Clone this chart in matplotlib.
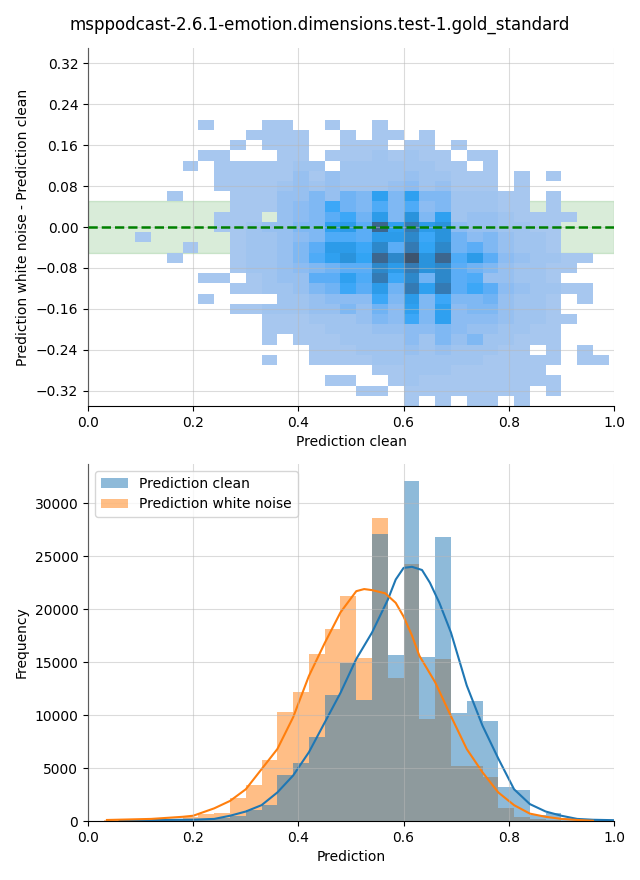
import numpy as np
import matplotlib
matplotlib.use('Agg')
import matplotlib.pyplot as plt
from matplotlib.colors import ListedColormap, to_rgb
from seaborn.external import husl

title = 'msppodcast-2.6.1-emotion.dimensions.test-1.gold_standard'

# ---- top panel: 2d histogram, prediction clean vs. difference ----
x_edges = np.round(np.arange(0.09, 0.995, 0.03), 2)        # 30 columns
y_rows = np.round(np.arange(0.20, -0.345, -0.02), 2)        # row centres, top -> bottom
# one char per cell: '.' empty, then rising counts (see level_counts)
level_chars = '.123456789abcdefgh'
level_counts = [0, 2, 5, 8, 12, 16, 20, 25, 28, 31, 34, 37, 41, 48, 57, 68, 85, 100]
grid_rows = [
    "....1...11..1..1..............",
    ".......1111..1.11.1...........",
    "......1.111..111.11.1.........",
    "....11...11.11121211.11.......",
    "...1.1111122.22222211.1.......",
    ".....111113132222322111.1.1...",
    ".....111123232223423111.1.....",
    "..1...111335365b5b5522211.1...",
    "......1113459658584522211.1...",
    ".....111.345796c5d5b23321111..",
    ".....1123355bc7gbfcd4332211...",
    "1.....122345887cce9d6453221...",
    "...1..122357cc9e7fae6753221...",
    "..1...122358bdagehdg8c7432211.",
    "......122345677ecfde76532211..",
    "....11.123377b8f9e6e7833221...",
    "......112235697c6fbf797432211.",
    "....1....22344495c595563221.1.",
    "......11222335364b5b4553221...",
    "........11122235495b44432211..",
    "........1111222334454332211...",
    "........1.11122224253522111...",
    "...........11122232322211.1.1.",
    "........1..1111222222211111.11",
    "...............11222111111....",
    "............11..12111111111...",
    "..............11.11111111.1...",
    ".................1.1.11.1.....",
]

# ---- bottom panel: histograms (bin width 0.03) and kde curves ----
bin_edges = np.round(np.arange(0.03, 0.995, 0.03), 2)
clean_counts = [0, 20, 40, 60, 80, 120, 200, 300, 500, 1000, 1500, 4300, 5500, 7900,
                11900, 14900, 11400, 27100, 15700, 32100, 15500, 26800, 10200, 11300,
                9400, 3200, 2900, 600, 800, 250, 120, 60]
noise_counts = [100, 60, 60, 80, 150, 400, 700, 800, 2200, 3400, 5800, 10300, 12200,
                15800, 18100, 21200, 15400, 28600, 13500, 24300, 9600, 15300, 5200,
                5200, 4200, 1250, 400, 200, 100, 40, 20, 10]

clean_kde_x = [0.06, 0.12, 0.20, 0.24, 0.27, 0.30, 0.33, 0.36, 0.39, 0.42, 0.45, 0.48,
               0.51, 0.54, 0.57, 0.585, 0.60, 0.616, 0.635, 0.65, 0.668, 0.69, 0.72,
               0.75, 0.78, 0.81, 0.84, 0.87, 0.90, 0.93, 0.96, 1.0]
clean_kde_y = [80, 100, 130, 200, 500, 900, 1500, 2700, 4300, 6500, 9300, 12100,
               15300, 17800, 20900, 22800, 23900, 24000, 23700, 22500, 20600, 17800,
               12800, 9000, 5900, 3000, 1600, 900, 500, 200, 120, 80]
noise_kde_x = [0.036, 0.12, 0.18, 0.20, 0.24, 0.27, 0.30, 0.33, 0.36, 0.39, 0.42, 0.45,
               0.48, 0.51, 0.525, 0.54, 0.565, 0.585, 0.60, 0.616, 0.63, 0.66, 0.69,
               0.72, 0.75, 0.78, 0.81, 0.84, 0.87, 0.90, 0.93, 0.96]
noise_kde_y = [100, 200, 400, 500, 1200, 1900, 3000, 4900, 6800, 9800, 13700, 16800,
               19700, 21700, 21900, 21800, 21500, 20600, 19300, 17500, 15600, 13100,
               9900, 6800, 4600, 2700, 1500, 700, 400, 200, 100, 30]


def cmap_from_color(color):
    # same light->saturated->dark ramp seaborn uses for bivariate histograms
    r, g, b = to_rgb(color)
    h, s, _ = husl.rgb_to_husl(r, g, b)
    xx = np.linspace(-1, 1, int(1.15 * 256))[:256]
    ramp = np.zeros((256, 3))
    ramp[:, 0] = h
    ramp[:, 1] = s * np.cos(xx)
    ramp[:, 2] = np.linspace(35, 80, 256)
    colors = np.clip([husl.husl_to_rgb(*hsl) for hsl in ramp], 0, 1)
    return ListedColormap(colors[::-1])


counts = np.array([[level_counts[level_chars.index(c)] for c in row] for row in grid_rows],
                  dtype=float)
counts = counts[::-1]                                  # bottom -> top for pcolormesh
y_edges = np.round(np.append(y_rows[::-1] - 0.01, y_rows[0] + 0.01), 2)
counts = np.ma.masked_equal(counts, 0)

plt.rcParams['font.size'] = 10
fig = plt.figure(figsize=(6.4, 8.8), dpi=100)
fig.suptitle(title, fontsize=12, y=0.982)

grid_kw = dict(color='0.72', alpha=0.5, linewidth=0.8)

ax1 = fig.add_axes([0.1375, 0.5386, 0.8219, 0.4068])
ax1.axhspan(-0.05, 0.05, color='green', alpha=0.15, zorder=0.5)
ax1.pcolormesh(x_edges, y_edges, counts, cmap=cmap_from_color('#1f77b4'),
               vmin=0, vmax=100, zorder=1)
ax1.axhline(0, color='green', linestyle='--', linewidth=1.8, zorder=3)
ax1.set_xlim(0, 1)
ax1.set_ylim(-0.35, 0.35)
ax1.set_yticks(np.round(np.arange(-0.32, 0.33, 0.08), 2))
ax1.set_axisbelow(False)
ax1.grid(True, **grid_kw)
ax1.set_xlabel('Prediction clean')
ax1.set_ylabel('Prediction white noise - Prediction clean')
ax1.spines['top'].set_visible(False)
ax1.spines['right'].set_visible(False)

ax2 = fig.add_axes([0.1375, 0.0670, 0.8219, 0.4057])
# orange first so the blue bars sit on top (grey overlap as in seaborn)
b_noise = ax2.bar(bin_edges[:-1], noise_counts, width=0.03, align='edge', color='#ff7f0e',
                  alpha=0.5, linewidth=0, label='Prediction white noise')
b_clean = ax2.bar(bin_edges[:-1], clean_counts, width=0.03, align='edge', color='#1f77b4',
                  alpha=0.5, linewidth=0, label='Prediction clean')
ax2.plot(clean_kde_x, clean_kde_y, color='#1f77b4', linewidth=1.5)
ax2.plot(noise_kde_x, noise_kde_y, color='#ff7f0e', linewidth=1.5)
ax2.set_xlim(0, 1)
ax2.set_ylim(0, max(clean_counts) * 1.05)
ax2.set_axisbelow(False)
ax2.grid(True, **grid_kw)
ax2.set_xlabel('Prediction')
ax2.set_ylabel('Frequency')
ax2.legend(handles=[b_clean, b_noise], loc='upper left')
ax2.spines['top'].set_visible(False)
ax2.spines['right'].set_visible(False)

plt.savefig('out.png', dpi=100)
